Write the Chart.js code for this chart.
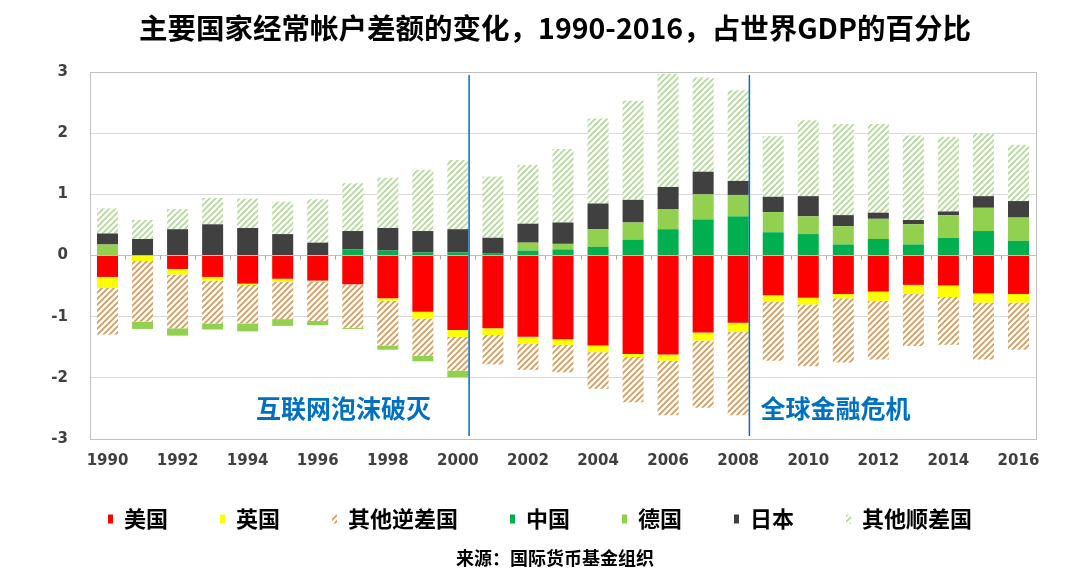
<!DOCTYPE html>
<html>
<head>
<meta charset="utf-8">
<script src="https://cdn.jsdelivr.net/npm/chart.js@4.4.0/dist/chart.umd.min.js"></script>
<style>
    html, body { margin: 0; padding: 0; background: #ffffff; }
</style>
</head>
<body>
<canvas id="cuentaChart" width="1080" height="582"></canvas>
<script>
// valores, % del PIB mundial
const years = [1990, 1991, 1992, 1993, 1994, 1995, 1996, 1997, 1998, 1999, 2000, 2001, 2002, 2003,
    2004, 2005, 2006, 2007, 2008, 2009, 2010, 2011, 2012, 2013, 2014, 2015, 2016];
const seriesNames = ['美国', '英国', '其他逆差国', '中国', '德国', '日本', '其他顺差国'];

const usa = [-0.35, 0, -0.22, -0.35, -0.46, -0.38, -0.41, -0.47, -0.70, -0.92, -1.22, -1.19, -1.33, -1.37,
    -1.47, -1.61, -1.62, -1.26, -1.10, -0.65, -0.69, -0.63, -0.59, -0.48, -0.49, -0.62, -0.63];
const uk = [-0.18, -0.09, -0.09, -0.06, -0.02, -0.05, -0.02, 0, -0.04, -0.11, -0.11, -0.11, -0.11, -0.09,
    -0.11, -0.05, -0.10, -0.13, -0.15, -0.10, -0.11, -0.07, -0.15, -0.15, -0.19, -0.15, -0.14];
const otherDeficit = [-0.76, -0.99, -0.88, -0.70, -0.63, -0.61, -0.64, -0.71, -0.73, -0.61, -0.55, -0.48, -0.43, -0.45,
    -0.60, -0.74, -0.89, -1.10, -1.36, -0.97, -1.01, -1.05, -0.96, -0.85, -0.78, -0.93, -0.77];
const china = [0, 0, 0, 0, 0, 0, 0, 0.10, 0.08, 0.05, 0.05, 0.03, 0.08, 0.10,
    0.14, 0.26, 0.43, 0.59, 0.64, 0.38, 0.35, 0.18, 0.27, 0.18, 0.29, 0.40, 0.24];
const germany = [0.18, -0.12, -0.12, -0.10, -0.13, -0.11, -0.07, -0.02, -0.07, -0.09, -0.11, 0, 0.13, 0.09,
    0.29, 0.28, 0.33, 0.41, 0.35, 0.33, 0.29, 0.30, 0.33, 0.33, 0.37, 0.38, 0.38];
const japan = [0.18, 0.27, 0.43, 0.51, 0.45, 0.35, 0.21, 0.30, 0.37, 0.35, 0.38, 0.26, 0.31, 0.35,
    0.42, 0.37, 0.36, 0.37, 0.23, 0.25, 0.33, 0.18, 0.10, 0.07, 0.06, 0.19, 0.27];
const otherSurplus = [0.41, 0.31, 0.33, 0.43, 0.48, 0.53, 0.71, 0.78, 0.82, 1.00, 1.13, 1.00, 0.96, 1.20,
    1.39, 1.62, 1.85, 1.54, 1.48, 0.99, 1.24, 1.49, 1.45, 1.38, 1.22, 1.02, 0.92];

const crisisYears = [2000, 2008];
const crisisLabels = ['互联网泡沫破灭', '全球金融危机'];
const yTicks = [-3, -2, -1, 0, 1, 2, 3];

const titulo = '主要国家经常帐户差额的变化，1990-2016，占世界GDP的百分比';
const fuente = '来源：国际货币基金组织';

const CJK = "'Noto Sans CJK SC', sans-serif";
const NUM = "'DejaVu Sans', sans-serif";

// relleno rayado tipo excel
const hatch = (color) => {
    const c = document.createElement('canvas');
    c.width = 6;
    c.height = 6;
    const g = c.getContext('2d');
    g.fillStyle = '#ffffff';
    g.fillRect(0, 0, 6, 6);
    g.strokeStyle = color;
    g.lineWidth = 1.7;
    g.beginPath();
    g.moveTo(0, 6); g.lineTo(6, 0);
    g.moveTo(-1, 1); g.lineTo(1, -1);
    g.moveTo(5, 7); g.lineTo(7, 5);
    g.stroke();
    return g.createPattern(c, 'repeat');
};

const lineasCrisis = {
    id: 'lineasCrisis',
    afterLayout(chart) {
        // pequeños ajustes de posicion de titulo, fuente y leyenda
        chart.boxes.forEach(b => {
            if (b === chart.legend) {
                b.top -= 13;
                b.bottom -= 13;
            } else if (b.options && b.options.text === titulo) {
                b.left += 30;
            } else if (b.options && b.options.text === fuente) {
                b.left += 30;
                b.top -= 6;
                b.bottom -= 6;
            }
        });
    },
    beforeDatasetsDraw(chart) {
        const { ctx, scales: { x, y } } = chart;
        const y0 = y.getPixelForValue(0);
        const paso = x.getPixelForValue(1) - x.getPixelForValue(0);
        ctx.save();
        ctx.strokeStyle = '#a6a6a6';
        ctx.lineWidth = 1;
        for (let i = 0; i <= years.length; i++) {
            const px = Math.round(x.getPixelForValue(0) - paso / 2 + i * paso) + 0.5;
            ctx.beginPath();
            ctx.moveTo(px, y0);
            ctx.lineTo(px, y0 + 4);
            ctx.stroke();
        }
        ctx.restore();
    },
    afterDatasetsDraw(chart) {
        const { ctx, chartArea, scales: { x, y } } = chart;
        const paso = x.getPixelForValue(1) - x.getPixelForValue(0);
        ctx.save();
        ctx.strokeStyle = '#bfbfbf';
        ctx.lineWidth = 1;
        ctx.strokeRect(chartArea.left + 0.5, chartArea.top + 0.5, chartArea.width, chartArea.height);

        ctx.strokeStyle = '#0070c0';
        ctx.lineWidth = 1.5;
        ctx.fillStyle = '#0070c0';
        ctx.font = "bold 25px " + CJK;
        ctx.textBaseline = 'middle';
        crisisYears.forEach((yr, i) => {
            const px = x.getPixelForValue(years.indexOf(yr)) + paso * 0.32;
            ctx.beginPath();
            ctx.moveTo(px, chartArea.top + 3);
            ctx.lineTo(px, chartArea.bottom - 3);
            ctx.stroke();
            const ty = y.getPixelForValue(-2.5);
            if (i === 0) {
                ctx.textAlign = 'right';
                ctx.fillText(crisisLabels[i], px - 38, ty);
            } else {
                ctx.textAlign = 'left';
                ctx.fillText(crisisLabels[i], px + 11, ty);
            }
        });
        ctx.restore();
    }
};

const colores = ['#ff0000', '#ffff00', hatch('#d49a5c'), '#00b050', '#92d050', '#404040', hatch('#b4d79c')];
const valores = [usa, uk, otherDeficit, china, germany, japan, otherSurplus];

const data = {
    labels: years,
    datasets: seriesNames.map((nombre, i) => ({
        label: nombre,
        data: valores[i],
        backgroundColor: colores[i],
        borderWidth: 0,
        stack: 'cuenta',
        barPercentage: 0.6,
        categoryPercentage: 1
    }))
};

const config = {
    type: 'bar',
    data: data,
    plugins: [lineasCrisis],
    options: {
        responsive: false,
        animation: false,
        layout: { padding: { left: 44, right: 44, top: 0, bottom: 0 } },
        plugins: {
            title: {
                display: true,
                text: titulo,
                color: '#000000',
                font: { family: CJK, size: 28.5, weight: 'bold' },
                padding: { top: 11, bottom: 26.8 }
            },
            subtitle: {
                display: true,
                position: 'bottom',
                text: fuente,
                color: '#000000',
                font: { family: CJK, size: 18, weight: 'bold' },
                padding: { top: 0, bottom: 7.4 }
            },
            legend: {
                position: 'bottom',
                labels: {
                    color: '#000000',
                    font: { family: CJK, size: 22, weight: 'bold' },
                    boxWidth: 5,
                    boxHeight: 9,
                    padding: 52
                }
            },
            tooltip: { enabled: false }
        },
        scales: {
            x: {
                stacked: true,
                grid: { display: false, drawTicks: false },
                border: { display: false },
                afterFit: (scale) => { scale.height = 30; },
                ticks: {
                    autoSkip: false,
                    maxRotation: 0,
                    padding: 13,
                    color: '#404040',
                    font: { family: NUM, size: 15, weight: 'bold' },
                    callback: function (val, index) {
                        return index % 2 === 0 ? years[index] : '';
                    }
                }
            },
            y: {
                stacked: true,
                min: -3,
                max: 3,
                afterFit: (scale) => { scale.width = 46; },
                afterBuildTicks: (scale) => { scale.ticks = yTicks.map(v => ({ value: v })); },
                grid: {
                    drawTicks: false,
                    color: (c) => c.tick && c.tick.value === 0 ? '#bfbfbf' : '#d9d9d9'
                },
                border: { display: false },
                ticks: {
                    padding: 22,
                    color: '#404040',
                    font: { family: NUM, size: 15, weight: 'bold' }
                }
            }
        }
    }
};

new Chart('cuentaChart', config);
</script>
</body>
</html>
